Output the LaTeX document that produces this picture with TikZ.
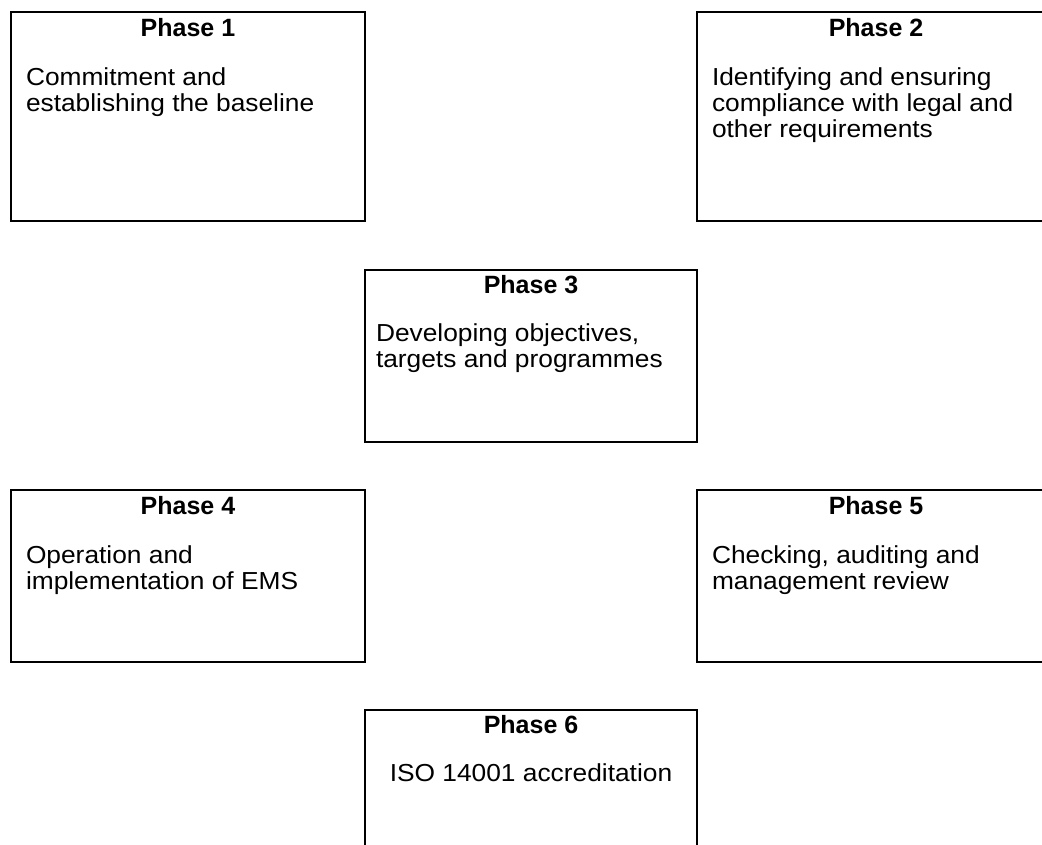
\documentclass[tikz,border=0pt]{standalone}
\usepackage{fontspec}
\setmainfont{Liberation Sans}[FakeStretch=1.07, BoldFeatures={FakeStretch=1.0}]
\usetikzlibrary{positioning}

\begin{document}
\begin{tikzpicture}[x=1pt, y=-1pt, line width=2pt,
  phase/.style = {draw, rectangle, inner sep=0pt, anchor=north west},
  head/.style = {anchor=base, inner sep=0pt, font=\bfseries\fontsize{25}{26}\selectfont},
  body/.style = {anchor=base west, inner sep=0pt, align=left, font=\fontsize{24.6}{26}\selectfont}]
           \clip (0,0) rectangle (1042,844);

           \node[phase, minimum width=354pt, minimum height=209pt] (p1) at (10,11) {};
           \node[phase, minimum width=358pt, minimum height=209pt] (p2) at (696,11) {};
           \node[phase, minimum width=332pt, minimum height=172pt] (p3) at (364,269) {};
           \node[phase, minimum width=354pt, minimum height=172pt] (p4) at (10,489) {};
           \node[phase, minimum width=358pt, minimum height=172pt] (p5) at (696,489) {};
           \node[phase, minimum width=332pt, minimum height=172pt] (p6) at (364,709) {};

           \node[head] (t1) at ([yshift=-25pt]p1.north) {Phase 1};
           \node[head] (t2) at ([yshift=-25pt]p2.north) {Phase 2};
           \node[head] (t3) at ([yshift=-24pt]p3.north) {Phase 3};
           \node[head] (t4) at ([yshift=-25pt]p4.north) {Phase 4};
           \node[head] (t5) at ([yshift=-25pt]p5.north) {Phase 5};
           \node[head] (t6) at ([yshift=-24pt]p6.north) {Phase 6};

           % base = baseline of the last line
           \node[body] (b1) at ([xshift=15pt, yshift=-100pt]p1.north west) {Commitment and\\establishing the baseline};
           \node[body] (b2) at ([xshift=15pt, yshift=-126pt]p2.north west) {Identifying and ensuring\\compliance with legal and\\other requirements};
           \node[body] (b3) at ([xshift=11pt, yshift=-98pt]p3.north west) {Developing objectives,\\targets and programmes};
           \node[body] (b4) at ([xshift=15pt, yshift=-100pt]p4.north west) {Operation and\\implementation of EMS};
           \node[body] (b5) at ([xshift=15pt, yshift=-100pt]p5.north west) {Checking, auditing and\\management review};
           \node[body, anchor=base] (b6) at ([yshift=-72pt]p6.north) {ISO 14001 accreditation};
         \end{tikzpicture}
\end{document}
